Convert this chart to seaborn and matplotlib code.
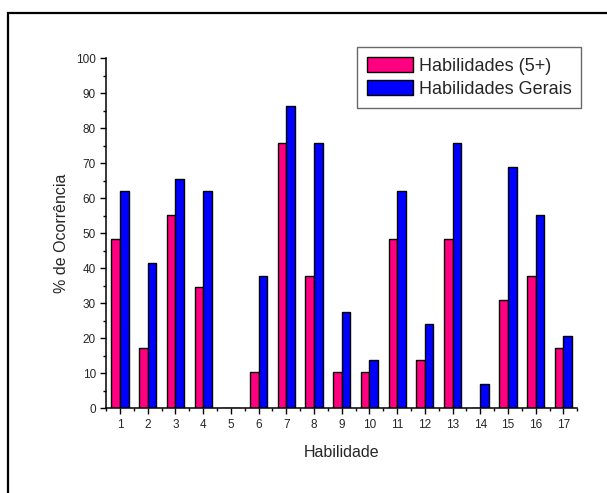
import matplotlib
matplotlib.use('Agg')
import matplotlib.pyplot as plt
from matplotlib.patches import Rectangle
from matplotlib.ticker import MultipleLocator, FixedLocator
import pandas as pd
import seaborn as sns

# data
habilidades = [str(i) for i in range(1, 18)]
hab_5mais = [48.3, 17.2, 55.2, 34.5, 0, 10.3, 75.9, 37.9, 10.3, 10.3, 48.3, 13.8, 48.3, 0, 31.0, 37.9, 17.2]
hab_gerais = [62.1, 41.4, 65.5, 62.1, 0, 37.9, 86.2, 75.9, 27.6, 13.8, 62.1, 24.1, 75.9, 6.9, 69.0, 55.2, 20.7]
series = ['Habilidades (5+)', 'Habilidades Gerais']
cores = ['#FF0080', '#0000FF']

df = pd.DataFrame({
    'Habilidade': habilidades * 2,
    'pct': hab_5mais + hab_gerais,
    'serie': [series[0]] * 17 + [series[1]] * 17,
})

sns.set_style('ticks')
plt.rcParams['font.family'] = ['Liberation Sans', 'DejaVu Sans']

fig = plt.figure(figsize=(6.07, 4.93), dpi=100)
ax = fig.add_axes([0.175, 0.172, 0.776, 0.710])

sns.barplot(data=df, x='Habilidade', y='pct', hue='serie', order=habilidades,
            hue_order=series, palette=cores, width=0.62, edgecolor='black',
            linewidth=1.0, saturation=1, ax=ax)

ax.set_xlim(-0.5, 16.5)
ax.set_ylim(0, 100)
ax.yaxis.set_major_locator(MultipleLocator(10))
ax.yaxis.set_minor_locator(MultipleLocator(5))
ax.xaxis.set_minor_locator(FixedLocator([i + 0.5 for i in range(-1, 17)]))
ax.tick_params(axis='both', which='major', direction='out', length=4.5, width=1,
               labelsize=8.5, color='black', pad=3)
ax.tick_params(axis='both', which='minor', direction='out', length=2.5, width=1, color='black')
sns.despine(ax=ax)
for s in ['left', 'bottom']:
    ax.spines[s].set_linewidth(1.1)
    ax.spines[s].set_color('black')

ax.set_xlabel('Habilidade', fontsize=11.5, labelpad=10)
ax.set_ylabel('% de Ocorrência', fontsize=11.5, labelpad=5)

leg = ax.legend(loc='upper right', bbox_to_anchor=(1.009, 1.031), fontsize=13,
                frameon=True, fancybox=False, handlelength=2.55, handleheight=0.85,
                handletextpad=0.3, borderpad=0.55, labelspacing=0.3, borderaxespad=0)
leg.get_frame().set_edgecolor('#444444')
leg.get_frame().set_linewidth(1.0)

# outer frame (cut off at right and bottom)
fig.patches.append(Rectangle((8 / 607, -0.1), 1.2, (493 - 13) / 493 + 0.1,
                             transform=fig.transFigure, fill=False,
                             edgecolor='black', linewidth=1.6))

fig.savefig('out.png', dpi=100)
